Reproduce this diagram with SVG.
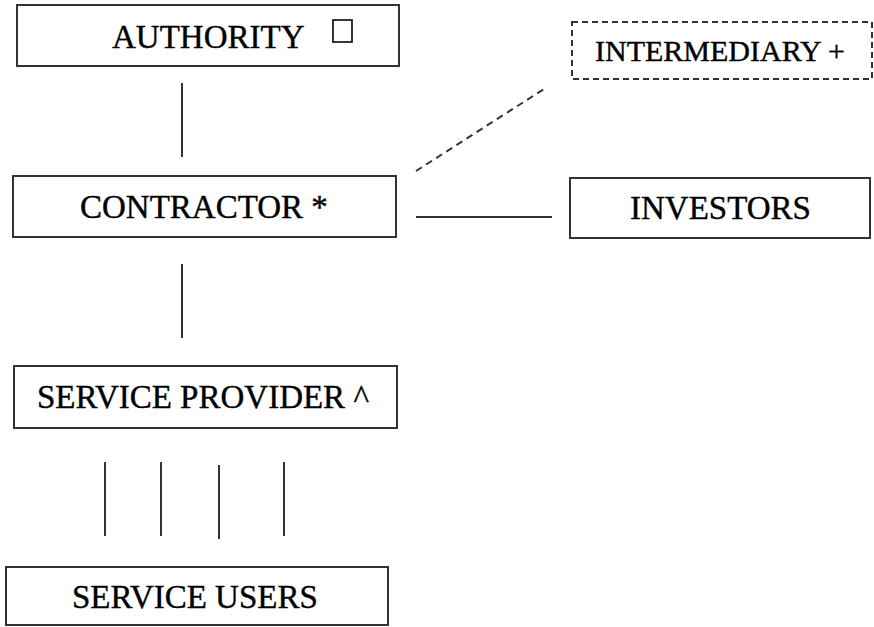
<svg xmlns="http://www.w3.org/2000/svg" width="874" height="627" viewBox="0 0 874 627">
<style>
.box{fill:#fff;stroke:#333;stroke-width:2}
.dash{fill:#fff;stroke:#333;stroke-width:2;stroke-dasharray:6 4}
.lbl{font-family:"Liberation Serif","Times New Roman",serif;font-size:33px;fill:#000;stroke:#000;stroke-width:0.4}
.ln{stroke:#333;stroke-width:2;fill:none}
.dl{stroke:#333;stroke-width:2;fill:none;stroke-dasharray:7 5}
</style>
<rect width="874" height="627" fill="#fff"/>
<g id="connectors">
<line class="ln" x1="182" y1="83" x2="182" y2="157"/>
<line class="ln" x1="182" y1="264" x2="182" y2="338"/>
<line class="dl" x1="416" y1="171" x2="544" y2="89"/>
<line class="ln" x1="416" y1="217" x2="552" y2="217"/>
<line class="ln" x1="105" y1="462" x2="105" y2="536"/>
<line class="ln" x1="161" y1="462" x2="161" y2="536"/>
<line class="ln" x1="219" y1="465" x2="219" y2="539"/>
<line class="ln" x1="284" y1="462" x2="284" y2="536"/>
</g>
<g id="authority">
<rect class="box" x="17" y="5" width="382" height="61"/>
<text class="lbl" x="112" y="48">AUTHORITY</text>
<rect x="333" y="20" width="19" height="22" fill="none" stroke="#222" stroke-width="1.8"/>
</g>
<g id="intermediary">
<rect class="dash" x="572" y="22" width="300" height="57"/>
<text class="lbl" x="595" y="61" style="font-size:30px">INTERMEDIARY +</text>
</g>
<g id="contractor">
<rect class="box" x="13" y="176" width="383" height="61"/>
<text class="lbl" x="80" y="218">CONTRACTOR *</text>
</g>
<g id="investors">
<rect class="box" x="570" y="178" width="300" height="60"/>
<text class="lbl" x="630" y="219">INVESTORS</text>
</g>
<g id="service-provider">
<rect class="box" x="14" y="366" width="383" height="62"/>
<text class="lbl" x="37" y="408">SERVICE PROVIDER ^</text>
</g>
<g id="service-users">
<rect class="box" x="6" y="567" width="382" height="58"/>
<text class="lbl" x="72" y="608">SERVICE USERS</text>
</g>
</svg>
